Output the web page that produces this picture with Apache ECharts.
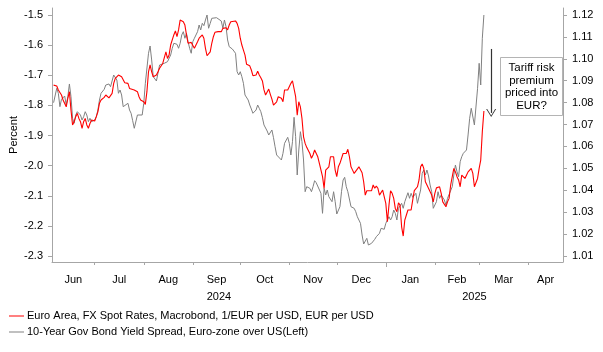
<!DOCTYPE html>
<html>
<head>
<meta charset="utf-8">
<script src="https://cdn.jsdelivr.net/npm/echarts@6/dist/echarts.min.js"></script>
<style>
  html, body { margin: 0; padding: 0; background: #fff; }
  #main { width: 603px; height: 352px; }
</style>
</head>
<body>
<div id="main"></div>
<script>
// days counted from 2024-07-01
const redDay = [-26,-24,-23,-21,-20,-19,-18,-17,-16,-15,-14,-13,-12,-11,-10,-9,-8,-7,-6,-5,-4,-3,-2,0,1,2,3,4,5,6,7,8,9,10,11,12,13,14,15,16,17,18,19,21,22,23,25,27,28,29,30,31,32,33,34,35,36,37,38,39,40,41,43,44,45,46,47,48,49,50,51,52,53,54,55,56,57,58,59,60,61,62,63,65,66,67,68,69,70,71,72,73,74,75,76,78,80,81,83,84,85,86,87,89,90,91,92,93,94,95,96,97,98,99,100,102,103,104,105,106,107,108,110,111,112,113,114,115,116,118,119,120,122,123,124,125,126,127,128,129,130,131,132,133,134,136,137,138,139,140,141,142,143,144,145,146,147,148,149,150,151,152,153,154,155,157,158,159,160,161,162,163,164,165,167,168,169,170,171,172,173,175,176,177,178,179,180,182,183,184,185,186,187,188,189,190,191,192,193,194,195,196,197,198,199,200,201,202,203,204,205,206,207,208,209,210,211,213,214,215,216,218,219,220,222,223,224,225,227,228,229,230,231,232,234,235,236,238,239,240,241,242,243,244,245,246];
const redVal = [1.0880,1.0876,1.0858,1.0835,1.0812,1.0815,1.0781,1.0820,1.0850,1.0766,1.0698,1.0713,1.0736,1.0751,1.0728,1.0713,1.0683,1.0713,1.0728,1.0698,1.0683,1.0705,1.0721,1.0716,1.0736,1.0758,1.0797,1.0812,1.0815,1.0824,1.0835,1.0830,1.0822,1.0827,1.0842,1.0888,1.0911,1.0903,1.0926,1.0931,1.0918,1.0911,1.0891,1.0888,1.0865,1.0858,1.0858,1.0850,1.0827,1.0812,1.0820,1.0804,1.0792,1.0850,1.0941,1.0972,1.0941,1.0918,1.0926,1.0926,1.0941,1.0957,1.0979,1.0987,1.1032,1.1002,1.1017,1.1063,1.1071,1.1109,1.1127,1.1101,1.1132,1.1177,1.1173,1.1169,1.1154,1.1109,1.1071,1.1066,1.1075,1.1071,1.1048,1.1078,1.1094,1.1086,1.1109,1.1094,1.1048,1.1014,1.1017,1.1032,1.1071,1.1101,1.1121,1.1124,1.1124,1.1139,1.1142,1.1132,1.1154,1.1169,1.1173,1.1173,1.1162,1.1139,1.1094,1.1063,1.1040,1.1017,1.0975,1.0972,1.0968,1.0949,1.0923,1.0926,1.0944,1.0926,1.0914,1.0899,1.0858,1.0835,1.0862,1.0838,1.0816,1.0789,1.0781,1.0804,1.0827,1.0820,1.0804,1.0858,1.0858,1.0854,1.0888,1.0900,1.0903,1.0827,1.0743,1.0804,1.0781,1.0728,1.0644,1.0614,1.0596,1.0568,1.0546,1.0561,1.0584,1.0587,1.0553,1.0523,1.0515,1.0462,1.0409,1.0492,1.0484,1.0507,1.0553,1.0556,1.0553,1.0492,1.0462,1.0507,1.0523,1.0568,1.0561,1.0568,1.0587,1.0553,1.0507,1.0492,1.0477,1.0484,1.0507,1.0500,1.0480,1.0439,1.0378,1.0398,1.0393,1.0398,1.0424,1.0409,1.0419,1.0409,1.0378,1.0401,1.0404,1.0340,1.0256,1.0332,1.0398,1.0386,1.0363,1.0317,1.0302,1.0343,1.0332,1.0233,1.0191,1.0264,1.0287,1.0310,1.0302,1.0310,1.0355,1.0398,1.0401,1.0416,1.0447,1.0507,1.0520,1.0500,1.0439,1.0424,1.0416,1.0378,1.0347,1.0386,1.0411,1.0416,1.0386,1.0347,1.0325,1.0347,1.0363,1.0424,1.0500,1.0484,1.0462,1.0447,1.0416,1.0469,1.0454,1.0469,1.0484,1.0500,1.0477,1.0416,1.0409,1.0454,1.0500,1.0538,1.0667,1.0762];

const grayDay = [-26,-25,-24,-23,-22,-21,-19,-18,-17,-16,-15,-14,-13,-12,-11,-10,-9,-8,-7,-6,-5,-4,-3,-2,0,1,2,3,4,5,6,7,8,9,10,11,12,13,14,15,16,17,18,19,21,22,23,24,25,27,28,30,31,32,34,35,36,37,38,39,40,41,44,45,46,47,48,49,50,51,52,53,54,55,56,57,58,59,60,61,62,63,65,66,67,68,69,70,71,72,73,74,75,77,78,80,81,82,83,84,85,86,87,88,89,90,91,92,93,94,95,96,97,98,99,100,102,103,104,105,106,107,109,110,111,112,113,114,115,116,118,119,120,122,123,124,125,126,127,128,129,130,131,132,133,134,136,137,138,139,140,141,143,144,145,146,147,148,150,151,152,153,154,155,156,157,158,159,160,162,164,165,166,168,169,170,171,172,173,175,176,177,178,180,181,182,183,184,185,186,187,188,189,190,191,192,194,195,196,197,198,199,200,201,203,204,205,206,207,208,209,210,211,212,213,214,216,217,218,219,221,222,223,224,226,227,228,229,230,231,232,233,235,236,237,238,240,241,242,243,244,245,246];
const grayVal = [-1.7911,-1.7911,-1.7433,-1.7599,-1.8044,-1.7798,-1.7689,-1.7988,-1.7712,-1.7290,-1.7712,-1.8429,-1.8595,-1.8320,-1.8210,-1.8243,-1.8320,-1.8486,-1.8376,-1.8210,-1.8320,-1.8542,-1.8429,-1.8542,-1.8486,-1.8376,-1.8154,-1.7822,-1.7599,-1.7546,-1.7466,-1.7324,-1.7357,-1.7290,-1.7380,-1.7357,-1.6992,-1.6959,-1.7158,-1.7599,-1.7490,-1.7656,-1.8044,-1.8044,-1.7931,-1.8154,-1.8263,-1.8509,-1.8761,-1.8320,-1.8263,-1.8320,-1.7931,-1.7267,-1.6271,-1.6029,-1.6494,-1.7048,-1.7101,-1.7191,-1.7214,-1.6660,-1.6603,-1.6660,-1.6550,-1.6550,-1.6328,-1.6105,-1.5939,-1.5886,-1.5973,-1.6105,-1.5939,-1.5664,-1.5554,-1.5773,-1.5607,-1.5886,-1.6105,-1.6271,-1.5886,-1.5773,-1.5554,-1.5332,-1.5498,-1.5276,-1.5355,-1.5166,-1.5000,-1.5441,-1.5276,-1.5110,-1.5090,-1.5090,-1.5090,-1.5199,-1.5441,-1.5166,-1.5388,-1.5830,-1.6052,-1.6052,-1.6129,-1.6105,-1.6271,-1.6882,-1.6992,-1.6882,-1.7048,-1.7267,-1.7656,-1.7679,-1.7822,-1.7988,-1.8120,-1.8263,-1.8154,-1.7988,-1.8097,-1.8210,-1.8409,-1.8651,-1.8851,-1.8983,-1.8927,-1.8817,-1.9073,-1.9372,-1.9647,-1.9704,-1.9813,-1.9591,-1.9259,-1.9060,-1.9259,-1.9647,-1.9206,-1.8396,-1.9040,-2.0311,-1.9481,-1.8874,-1.9206,-1.9813,-2.0866,-2.0700,-2.0753,-2.0866,-2.0700,-2.0500,-2.0567,-2.0587,-2.0919,-2.1583,-2.0753,-2.0975,-2.0809,-2.1032,-2.1198,-2.0866,-2.1198,-2.1606,-2.1672,-2.1364,-2.0866,-2.0477,-2.0388,-2.0700,-2.0866,-2.1364,-2.1417,-2.1530,-2.1696,-2.1915,-2.2303,-2.2602,-2.2635,-2.2413,-2.2635,-2.2578,-2.2525,-2.2446,-2.2359,-2.2247,-2.2081,-2.2137,-2.2114,-2.1915,-2.1805,-2.1696,-2.1805,-2.1696,-2.1473,-2.1583,-2.1805,-2.1417,-2.1251,-2.1417,-2.1198,-2.1141,-2.0899,-2.1085,-2.0919,-2.1052,-2.0919,-2.1251,-2.1307,-2.0809,-2.0255,-2.0145,-2.0311,-2.0145,-2.0344,-2.0643,-2.0866,-2.1417,-2.1198,-2.0866,-2.1085,-2.0975,-2.1141,-2.1307,-2.1085,-2.1141,-2.0700,-2.0311,-1.9979,-2.0202,-2.0368,-1.9870,-1.9704,-1.9591,-1.9481,-1.8983,-1.8429,-1.8097,-1.8651,-1.8595,-1.7433,-1.6603,-1.7324,-1.5773,-1.5000];

const leftTicks = [-2.3,-2.2,-2.1,-2.0,-1.9,-1.8,-1.7,-1.6,-1.5];
const rightTicks = [1.01,1.02,1.03,1.04,1.05,1.06,1.07,1.08,1.09,1.10,1.11,1.12];
const monthNames = ['Jan','Feb','Mar','Apr','May','Jun','Jul','Aug','Sep','Oct','Nov','Dec'];

const redName = 'Euro Area, FX Spot Rates, Macrobond, 1/EUR per USD, EUR per USD';
const grayName = '10-Year Gov Bond Yield Spread, Euro-zone over US(Left)';
const noteText = 'Tariff risk\npremium\npriced into\nEUR?';

// arrow next to the note (day, right-axis values)
const arrowDay = 250.6;
const arrowFrom = 1.1045;
const arrowTo = 1.0753;

const ts = d => Date.UTC(2024, 6, 1) + d * 86400000;
const xMin = ts(-27), xMax = ts(296);

let monthTicks = [], monthLabels = [];
for (let i = -1; i < 11; i++) {
  const a = Math.max(Date.UTC(2024, 6 + i, 1), xMin);
  const b = Math.min(Date.UTC(2024, 7 + i, 1), xMax);
  if (a > xMin) monthTicks.push(a);
  if (b > a) monthLabels.push((a + b) / 2);
}
const jan1 = Date.UTC(2025, 0, 1);
const yearLabels = [(xMin + jan1) / 2, (jan1 + xMax) / 2];

const font = '"Liberation Sans", Arial, sans-serif';
const axisGray = '#a6a6a6';

let myChart = echarts.init(document.getElementById('main'));
myChart.setOption({
  animation: false,
  grid: { left: 52, right: 40, top: 8, bottom: 90, containLabel: false, outerBoundsMode: 'none' },
  legend: {
    orient: 'vertical', left: 9, top: 309, padding: 0, itemGap: 2,
    itemWidth: 15, itemHeight: 1, icon: 'rect',
    data: [redName, grayName],
    textStyle: { fontFamily: font, fontSize: 11, color: '#000', lineHeight: 14, padding: [0, 0, 0, -2] }
  },
  xAxis: [
    {
      type: 'value', min: xMin, max: xMax,
      axisLine: { lineStyle: { color: axisGray } },
      axisTick: { customValues: monthTicks, length: 3, lineStyle: { color: axisGray } },
      axisLabel: {
        customValues: monthLabels, margin: 12, color: '#000', fontFamily: font, fontSize: 11,
        formatter: v => monthNames[new Date(v).getUTCMonth()]
      },
      splitLine: { show: false }
    },
    {
      type: 'value', min: xMin, max: xMax, position: 'bottom',
      axisLine: { show: false },
      axisTick: { customValues: [jan1], length: 5, lineStyle: { color: axisGray } },
      axisLabel: {
        customValues: yearLabels, margin: 29, color: '#000', fontFamily: font, fontSize: 11,
        formatter: v => String(new Date(v).getUTCFullYear())
      },
      splitLine: { show: false }
    }
  ],
  yAxis: [
    {
      type: 'value', min: -2.3199, max: -1.4768, position: 'left',
      name: 'Percent', nameLocation: 'middle', nameGap: 33, nameMoveOverlap: false,
      nameTextStyle: { fontFamily: font, fontSize: 11, color: '#000' },
      axisLine: { show: true, lineStyle: { color: axisGray } },
      axisTick: { show: true, customValues: leftTicks, length: 4, lineStyle: { color: axisGray } },
      axisLabel: { customValues: leftTicks, margin: 9, color: '#000', fontFamily: font, fontSize: 11,
        formatter: v => v.toFixed(1) },
      splitLine: { show: false }
    },
    {
      type: 'value', min: 1.00726, max: 1.1232, position: 'right',
      axisLine: { show: true, lineStyle: { color: axisGray } },
      axisTick: { show: true, customValues: rightTicks, length: 4, lineStyle: { color: axisGray } },
      axisLabel: { customValues: rightTicks, margin: 9, color: '#000', fontFamily: font, fontSize: 11,
        formatter: v => v.toFixed(2) },
      splitLine: { show: false }
    }
  ],
  series: [
    {
      name: grayName, type: 'line', xAxisIndex: 0, yAxisIndex: 0, symbol: 'none', z: 2,
      lineStyle: { color: '#808080', width: 1 }, itemStyle: { color: '#808080' },
      data: grayDay.map((d, i) => [ts(d), grayVal[i]])
    },
    {
      name: redName, type: 'line', xAxisIndex: 0, yAxisIndex: 1, symbol: 'none', z: 3,
      lineStyle: { color: '#ff0000', width: 1.1 }, itemStyle: { color: '#ff0000' },
      data: redDay.map((d, i) => [ts(d), redVal[i]]),
      markLine: {
        silent: true, animation: false,
        symbol: ['none', 'path://M0,10 L5,0 L10,10 L9,10 L5,1.8 L1,10 Z'],
        symbolSize: [10, 8],
        label: { show: false },
        lineStyle: { color: '#333', width: 1.2, type: 'solid' },
        data: [[{ coord: [ts(arrowDay), arrowFrom] }, { coord: [ts(arrowDay), arrowTo] }]]
      }
    }
  ],
  graphic: [
    {
      type: 'rect', z: 100,
      shape: { x: 500.5, y: 57.5, width: 62, height: 58 },
      style: { fill: '#fff', stroke: '#b4b4b4', lineWidth: 1 }
    },
    {
      type: 'text', z: 101, x: 531.5, y: 87,
      style: { text: noteText, fill: '#000', fontFamily: font, fontSize: 11.5,
        lineHeight: 12.6, align: 'center', verticalAlign: 'middle' }
    }
  ]
});
</script>
</body>
</html>
